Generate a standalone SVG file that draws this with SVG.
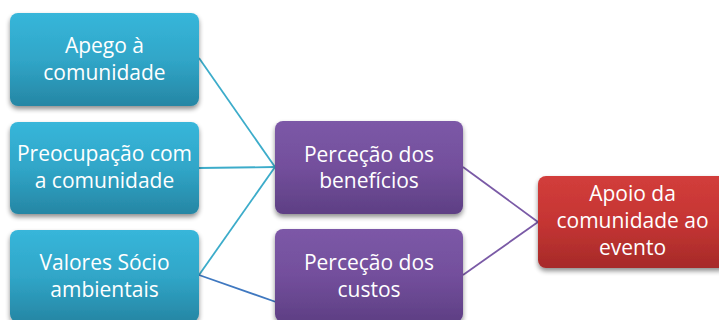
<svg xmlns="http://www.w3.org/2000/svg" width="719" height="320" viewBox="0 0 719 320">
<defs>
<linearGradient id="gTeal" x1="0" y1="0" x2="0" y2="1">
<stop offset="0" stop-color="#37b6da"/>
<stop offset="0.5" stop-color="#30a6c8"/>
<stop offset="1" stop-color="#2686a4"/>
</linearGradient>
<linearGradient id="gPurple" x1="0" y1="0" x2="0" y2="1">
<stop offset="0" stop-color="#7c58a7"/>
<stop offset="0.5" stop-color="#734f9c"/>
<stop offset="1" stop-color="#5e3f84"/>
</linearGradient>
<linearGradient id="gRed" x1="0" y1="0" x2="0" y2="1">
<stop offset="0" stop-color="#d23d3b"/>
<stop offset="0.5" stop-color="#c53533"/>
<stop offset="1" stop-color="#a62a29"/>
</linearGradient>
<filter id="sh" x="-10%" y="-10%" width="120%" height="130%">
<feGaussianBlur in="SourceAlpha" stdDeviation="2.5"/>
<feOffset dx="0" dy="3" result="b"/>
<feComponentTransfer><feFuncA type="linear" slope="0.45"/></feComponentTransfer>
<feMerge><feMergeNode/><feMergeNode in="SourceGraphic"/></feMerge>
</filter>
</defs>
<style>
.box{filter:url(#sh);}
.t{font-family:"Open Sans","Noto Sans","DejaVu Sans",sans-serif;font-size:21px;fill:#ffffff;text-anchor:middle;}
.ct{fill:none;stroke:#3cacca;stroke-width:1.8;}
.cp{fill:none;stroke:#7a5aa6;stroke-width:1.8;}
.cb{fill:none;stroke:#3f78c0;stroke-width:1.8;}
</style>
<rect width="719" height="320" fill="#ffffff"/>
<g id="connectors">
<line class="ct" x1="199" y1="58" x2="275" y2="167"/>
<line class="ct" x1="199" y1="168" x2="275" y2="167"/>
<line class="ct" x1="199" y1="275" x2="275" y2="167"/>
<line class="cb" x1="199" y1="275" x2="276" y2="302"/>
<line class="cp" x1="463" y1="167" x2="538" y2="222"/>
<line class="cp" x1="463" y1="275" x2="538" y2="222"/>
</g>
<g id="n1">
<rect class="box" x="10" y="13" width="189" height="93" rx="8" fill="url(#gTeal)"/>
<text class="t" x="104.5" y="53">Apego à</text>
<text class="t" x="104.5" y="80">comunidade</text>
</g>
<g id="n2">
<rect class="box" x="10" y="122" width="189" height="92" rx="8" fill="url(#gTeal)"/>
<text class="t" x="104.5" y="161">Preocupação com</text>
<text class="t" x="104.5" y="188">a comunidade</text>
</g>
<g id="n3">
<rect class="box" x="10" y="230" width="189" height="92" rx="8" fill="url(#gTeal)"/>
<text class="t" x="104.5" y="270">Valores Sócio</text>
<text class="t" x="104.5" y="297">ambientais</text>
</g>
<g id="n4">
<rect class="box" x="275" y="121" width="188" height="93" rx="8" fill="url(#gPurple)"/>
<text class="t" x="369" y="162">Perceção dos</text>
<text class="t" x="369" y="188">benefícios</text>
</g>
<g id="n5">
<rect class="box" x="275" y="229" width="188" height="93" rx="8" fill="url(#gPurple)"/>
<text class="t" x="369" y="270">Perceção dos</text>
<text class="t" x="369" y="297">custos</text>
</g>
<g id="n6">
<rect class="box" x="538" y="176" width="189" height="92" rx="8" fill="url(#gRed)"/>
<text class="t" x="632.5" y="201">Apoio da</text>
<text class="t" x="632.5" y="228">comunidade ao</text>
<text class="t" x="632.5" y="255">evento</text>
</g>
</svg>
